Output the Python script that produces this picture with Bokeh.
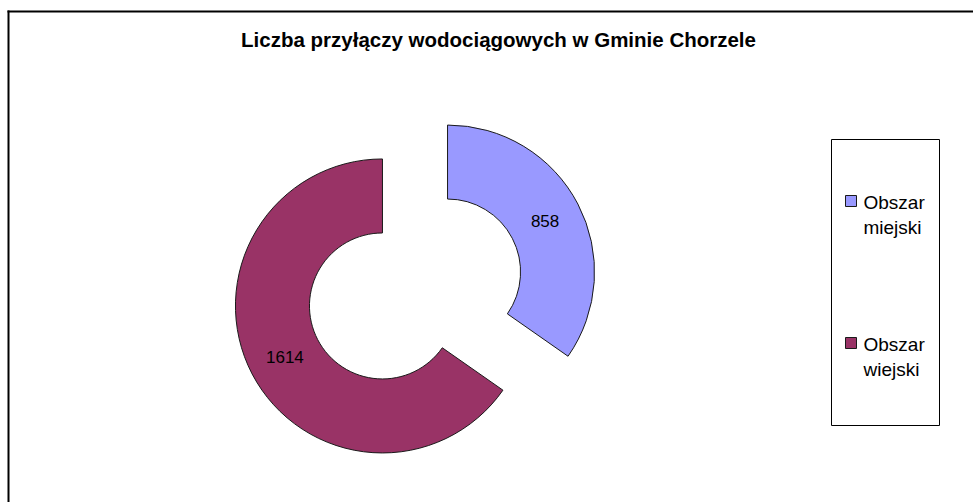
import math
from bokeh.plotting import figure
from bokeh.models import Range1d
from bokeh.core.properties import value
from bokeh.embed import file_html
from bokeh.resources import INLINE

title = "Liczba przyłączy wodociągowych w Gminie Chorzele"
categories = ["Obszar miejski", "Obszar wiejski"]
counts = [858, 1614]
colors = ["#9999FF", "#993366"]

W, H = 973, 502
p = figure(width=W, height=H, output_backend="svg", toolbar_location=None,
           x_range=Range1d(0, W), y_range=Range1d(0, H), min_border=0)
p.axis.visible = False
p.grid.visible = False
p.outline_line_color = None
p.background_fill_color = "white"

# frame (top + left edges visible)
p.segment(x0=[7, 8], y0=[491, 492], x1=[W, 8], y1=[491, 0], line_color="black", line_width=2)

# title
p.text(x=[498], y=[463], text=[title], text_align="center", text_baseline="alphabetic",
       text_font=value("Liberation Sans"), text_font_style="bold", text_font_size="20.5px",
       text_color="black")

# doughnut
cx, cy = 414.5, 213.5
r_out, r_in = 147, 73
explode = 36.7
total = sum(counts)
start = math.pi / 2
for val, col in zip(counts, colors):
    sweep = 2 * math.pi * val / total
    end = start - sweep
    mid = (start + end) / 2
    x0 = cx + explode * math.cos(mid)
    y0 = cy + explode * math.sin(mid)
    p.annular_wedge(x=[x0], y=[y0], inner_radius=r_in, outer_radius=r_out,
                    start_angle=start, end_angle=end, direction="clock",
                    fill_color=col, line_color="#1a1a1a", line_width=1)
    rm = (r_in + r_out) / 2
    p.text(x=[x0 + rm * math.cos(mid)], y=[y0 + rm * math.sin(mid)], text=[str(val)],
           text_align="center", text_baseline="middle",
           text_font=value("Liberation Sans"), text_font_size="17px", text_color="black")
    start = end

# legend box
p.quad(left=[831], right=[939], bottom=[77], top=[363], fill_color="white",
       line_color="black", line_width=1)
for i, (cat, col) in enumerate(zip(categories, colors)):
    yc = 301.5 - i * 142
    p.rect(x=[850.5], y=[yc], width=11, height=11, fill_color=col, line_color="#1a1a1a", line_width=1)
    words = cat.split(" ")
    for j, w in enumerate(words):
        p.text(x=[863], y=[yc - 1 - j * 25], text=[w], text_align="left",
               text_baseline="alphabetic", text_font=value("Liberation Sans"),
               text_font_size="19px", text_color="black")

open("out.html", "w").write(file_html(p, INLINE))
